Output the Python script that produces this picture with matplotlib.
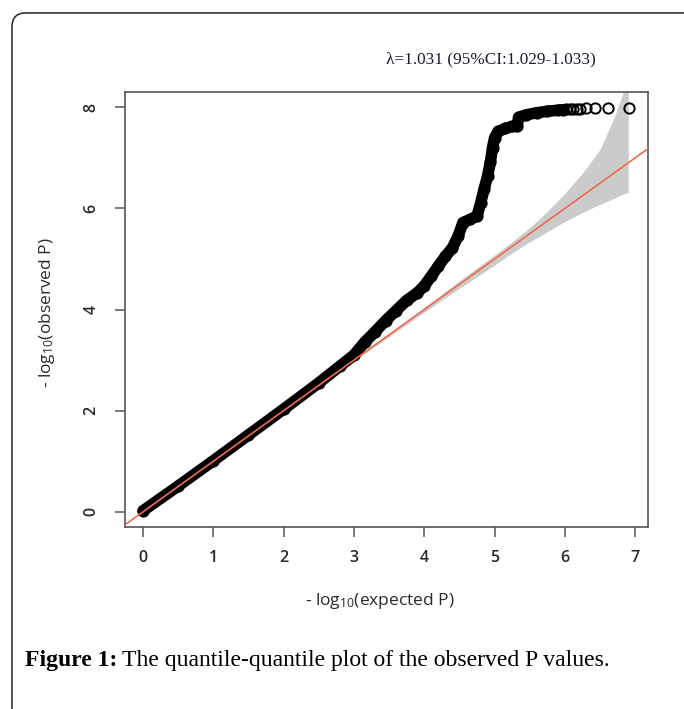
import matplotlib
matplotlib.use("Agg")
import matplotlib.pyplot as plt
from matplotlib.patches import FancyBboxPatch

# observed vs expected -log10(P)
expected = [0, 0.5, 1.0, 1.5, 2.0, 2.5, 2.8, 3.0, 3.15, 3.3, 3.45, 3.6, 3.75, 3.9, 4.0,
            4.1, 4.2, 4.3, 4.4, 4.48, 4.55, 4.65, 4.75, 4.8, 4.85, 4.9, 4.94, 4.97, 5.0,
            5.05, 5.15, 5.25, 5.32, 5.34, 5.45, 5.6, 5.75, 5.9, 5.97]
observed = [0.02, 0.51, 1.01, 1.52, 2.03, 2.55, 2.88, 3.1, 3.35, 3.56, 3.78, 3.98, 4.18, 4.33, 4.47,
            4.66, 4.86, 5.05, 5.22, 5.45, 5.72, 5.78, 5.85, 6.1, 6.38, 6.64, 6.92, 7.2, 7.4,
            7.52, 7.58, 7.62, 7.62, 7.8, 7.85, 7.89, 7.92, 7.94, 7.95]
tail_expected = [6.02, 6.07, 6.12, 6.17, 6.22, 6.30, 6.43, 6.61, 6.91]
tail_observed = [7.96, 7.96, 7.97, 7.97, 7.97, 7.98, 7.98, 7.98, 7.98]

# 95% confidence band
band_x = [0, 2, 3, 4, 4.5, 5, 5.25, 5.5, 5.75, 6, 6.25, 6.5, 6.7, 6.83, 6.9]
band_hi = [0, 2.01, 3.02, 4.04, 4.57, 5.08, 5.34, 5.62, 5.94, 6.3, 6.7, 7.17, 7.8, 8.3, 8.6]
band_lo = [0, 1.99, 2.98, 3.95, 4.42, 4.88, 5.12, 5.34, 5.54, 5.74, 5.92, 6.08, 6.2, 6.28, 6.32]

ref_intercept, ref_slope = 0, 1
title = "λ=1.031 (95%CI:1.029-1.033)"

plt.rcParams["mathtext.default"] = "regular"
plt.rcParams["font.family"] = ["Open Sans", "DejaVu Sans"]
fig = plt.figure(figsize=(6.84, 7.09), dpi=100)
ax = fig.add_axes([0.1827, 0.2567, 0.7646, 0.6135])

ax.fill_between(band_x, band_lo, band_hi, color="#cbcbcb", lw=0, zorder=1)
ax.plot(expected, observed, color="black", lw=8.3, solid_capstyle="round",
        solid_joinstyle="round", zorder=2)
ax.plot(expected + tail_expected, observed + tail_observed, "o", mfc="none", mec="black",
        ms=7.4, mew=1.4, zorder=3)
ax.axline((0, ref_intercept), slope=ref_slope, color="#ef6a50", lw=1.2, zorder=4)

ax.set_xlim(-0.256, 7.18)
ax.set_ylim(-0.3, 8.3)
ax.set_xticks(range(0, 8))
ax.set_yticks([0, 2, 4, 6, 8])
for s in ax.spines.values():
    s.set_color("#555555")
    s.set_linewidth(1.2)
ax.tick_params(axis="both", direction="out", length=7.5, width=1.1, color="#555555",
               labelcolor="#2a2a2a", labelsize=11.5)
ax.tick_params(axis="x", pad=9)
ax.tick_params(axis="y", pad=11)
for lab in ax.get_xticklabels() + ax.get_yticklabels():
    lab.set_fontweight("semibold")
for lab in ax.get_yticklabels():
    lab.set_rotation(90)
    lab.set_va("center")

fig.text(0.555, 0.1523, r"- log$_{10}$(expected P)", ha="center", va="center",
         fontsize=12.5, color="#2a2a2a")
fig.text(0.069, 0.5587, r"- log$_{10}$(observed P)", ha="center", va="center",
         rotation=90, fontsize=12.5, color="#2a2a2a")
fig.text(0.718, 0.916, title, ha="center", va="center", fontsize=12.4,
         color="#1c1c30", family="Liberation Serif")

# caption
t1 = fig.text(0.036, 0.069, "Figure 1:", ha="left", va="center", fontsize=17,
              weight="bold", family="Liberation Serif")
fig.canvas.draw()
bb = t1.get_window_extent().transformed(fig.transFigure.inverted())
fig.text(bb.x1 + 0.008, 0.069, "The quantile-quantile plot of the observed P values.",
         ha="left", va="center", fontsize=17, family="Liberation Serif")

# rounded frame around the figure
frame = FancyBboxPatch((0.0175, -0.2), 1.3, 1.1817, boxstyle="round,pad=0,rounding_size=0.02",
                       transform=fig.transFigure, fill=False, ec="#222222", lw=1.1,
                       clip_on=False)
fig.patches.append(frame)

fig.savefig("out.png", dpi=100)
